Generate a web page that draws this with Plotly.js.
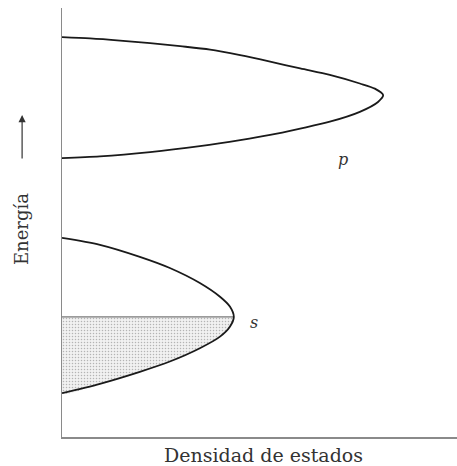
<!DOCTYPE html>
<html>
<head>
<meta charset="utf-8">
<script src="https://cdn.plot.ly/plotly-3.0.1.min.js"></script>
<style>
html,body{margin:0;padding:0;background:#fff;}
#chart{width:457px;height:466px;}
</style>
</head>
<body>
<div id="chart"></div>
<script>
// p band outline (density, energy)
const pBandX = [0, 7.1, 14.7, 22.3, 29.9, 37.5, 45.1, 52.7, 60.3, 67.8, 75.4, 79.2, 81.3, 80.0, 75.4, 67.8, 60.3, 52.7, 45.1, 34.9, 22.3, 9.6, 0];
const pBandY = [93.2, 92.9, 92.4, 91.8, 91.1, 90.3, 89.0, 87.5, 85.9, 84.4, 82.4, 81.2, 79.7, 78.1, 75.8, 73.5, 71.9, 70.4, 69.2, 67.8, 66.4, 65.4, 65.0];
// s band outline
const sBandX = [0, 9.6, 19.7, 27.3, 34.9, 40.0, 42.5, 43.5, 42.5, 40.0, 34.9, 27.3, 19.7, 9.6, 0];
const sBandY = [46.4, 44.8, 42.0, 39.4, 35.9, 32.7, 30.4, 28.0, 25.7, 23.4, 20.7, 17.6, 15.2, 12.4, 10.2];
// occupied part of s band (below Fermi level)
const fermiLevel = 28.0;
const sFilledX = [43.5, 42.5, 40.0, 34.9, 27.3, 19.7, 9.6, 0, 0];
const sFilledY = [28.0, 25.7, 23.4, 20.7, 17.6, 15.2, 12.4, 10.2, 28.0];
const bandLabels = ["p", "s"];
const labelX = [71.1, 48.6];
const labelY = [64.6, 26.6];

const traces = [
  {
    x: sFilledX, y: sFilledY, mode: 'lines', fill: 'toself',
    line: {width: 0, color: 'rgba(0,0,0,0)', shape: 'spline', smoothing: 0.6},
    fillcolor: '#eeeeee',
    fillpattern: {shape: '.', fgcolor: '#b4b4b4', bgcolor: '#f1f1f1', size: 3, solidity: 0.2},
    hoverinfo: 'skip', showlegend: false
  },
  {
    x: [0, sFilledX[0]], y: [fermiLevel, fermiLevel], mode: 'lines',
    line: {color: '#7a7a7a', width: 1.3}, hoverinfo: 'skip', showlegend: false
  },
  {
    x: pBandX, y: pBandY, mode: 'lines',
    line: {color: '#1a1a1a', width: 1.8, shape: 'spline', smoothing: 0.8},
    hoverinfo: 'skip', showlegend: false
  },
  {
    x: sBandX, y: sBandY, mode: 'lines',
    line: {color: '#1a1a1a', width: 1.8, shape: 'spline', smoothing: 0.8},
    hoverinfo: 'skip', showlegend: false
  }
];

const serif = '"DejaVu Serif", "Liberation Serif", serif';
const layout = {
  width: 457, height: 466,
  margin: {l: 62, r: 0, t: 8, b: 29, pad: 0},
  paper_bgcolor: '#fff', plot_bgcolor: '#fff',
  showlegend: false,
  xaxis: {range: [0, 100], showline: true, linecolor: '#8a8a8a', linewidth: 1.5,
          showgrid: false, zeroline: false, showticklabels: false, ticks: '', fixedrange: true},
  yaxis: {range: [0, 100], showline: true, linecolor: '#8a8a8a', linewidth: 1.5,
          showgrid: false, zeroline: false, showticklabels: false, ticks: '', fixedrange: true},
  annotations: [
    {text: '<i>' + bandLabels[0] + '</i>', x: labelX[0], y: labelY[0], xref: 'x', yref: 'y',
     showarrow: false, font: {family: serif, size: 16, color: '#333'}},
    {text: '<i>' + bandLabels[1] + '</i>', x: labelX[1], y: labelY[1], xref: 'x', yref: 'y',
     showarrow: false, font: {family: serif, size: 16, color: '#333'}},
    {text: 'Densidad de estados', x: 0.509, y: -0.042, xref: 'paper', yref: 'paper',
     xanchor: 'center', yanchor: 'middle', showarrow: false,
     font: {family: serif, size: 19, color: '#333'}},
    {text: 'Energía', x: -0.101, y: 0.485, xref: 'paper', yref: 'paper',
     xanchor: 'center', yanchor: 'middle', textangle: -90, showarrow: false,
     font: {family: serif, size: 18, color: '#333'}},
    {text: '', x: -0.101, y: 0.7506, xref: 'paper', yref: 'paper',
     showarrow: true, ax: 0, ay: 45, axref: 'pixel', ayref: 'pixel',
     arrowhead: 2, arrowsize: 1.2, arrowwidth: 1.2, arrowcolor: '#333'}
  ]
};

Plotly.newPlot('chart', traces, layout, {displayModeBar: false, staticPlot: true});
</script>
</body>
</html>
